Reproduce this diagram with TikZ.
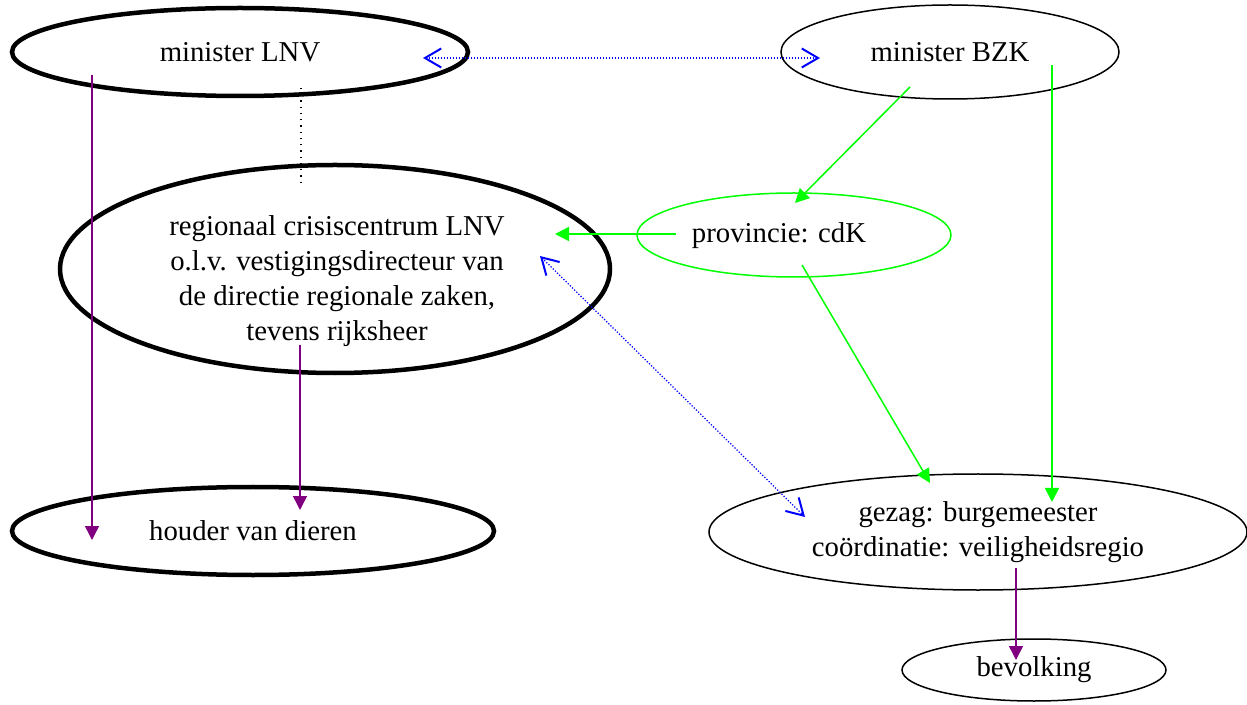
\documentclass[tikz,border=0pt]{standalone}
\usepackage{fontspec}
\setmainfont{Liberation Serif}
\usetikzlibrary{shapes.geometric,arrows.meta}
\definecolor{paars}{RGB}{128,0,128}
\definecolor{groen}{RGB}{0,255,0}
\definecolor{blauw}{RGB}{0,0,255}
\begin{document}
\begin{tikzpicture}[
        x=0.4pt, y=-0.4pt,
        every node/.style={align=center, font=\fontsize{11.5}{14}\selectfont},
        org/.style={ellipse, draw, inner sep=0pt},
        dik/.style={org, line width=1.8pt},
        dun/.style={org, line width=0.6pt},
        lijn/.style={line width=0.6pt, -{Triangle[length=5.6pt,width=5.6pt]}},
        overleg/.style={blauw, dash pattern=on 0.5pt off 0.7pt, line width=0.5pt, {Straight Barb[length=6.5pt,width=7.6pt,line width=0.8pt]}-{Straight Barb[length=6.5pt,width=7.6pt,line width=0.8pt]}},
    ]
    \useasboundingbox (0,0) rectangle (1247,705);
    \node[dik, minimum width=182.4pt, minimum height=35.2pt] (lnv) at (240,52) {minister LNV};
    \node[dun, minimum width=135.2pt, minimum height=37.6pt] (bzk) at (950,52) {minister BZK};
    \node[dik, minimum width=220pt, minimum height=83.2pt] (rcc) at (335,269) {};
    \node (rcctekst) at (337,281) {regionaal crisiscentrum LNV\\o.l.v. vestigingsdirecteur van\\de directie regionale zaken,\\tevens rijksheer};
    \node[dun, draw=groen, minimum width=125.6pt, minimum height=33.6pt] (prov) at (794,235) {};
    \node (provtekst) at (779,236) {provincie: cdK};
    \node[dik, minimum width=192.8pt, minimum height=35.2pt] (houder) at (253,531) {houder van dieren};
    \node[dun, minimum width=215.2pt, minimum height=46.4pt] (gezag) at (978,532) {gezag: burgemeester\\coördinatie: veiligheidsregio};
    \node[dun, minimum width=105.6pt, minimum height=24.8pt] (bevolking) at (1034,670) {bevolking};

    \coordinate (a1) at (423,58);  \coordinate (a2) at (820,58);
    \coordinate (b1) at (301,88);  \coordinate (b2) at (301,183);
    \coordinate (c1) at (92,75);   \coordinate (c2) at (92,540);
    \coordinate (d1) at (300,345); \coordinate (d2) at (300,510);
    \coordinate (e1) at (1016,568); \coordinate (e2) at (1016,660);
    \coordinate (f1) at (910,87);  \coordinate (f2) at (795,203);
    \coordinate (g1) at (1052,65); \coordinate (g2) at (1052,502);
    \coordinate (h1) at (676,234); \coordinate (h2) at (555,234);
    \coordinate (i1) at (802,265); \coordinate (i2) at (930,483);
    \coordinate (j1) at (540,256); \coordinate (j2) at (805,517);

    \draw[overleg] (a1) -- (a2);
    \draw[dotted, line width=0.5pt] (b1) -- (b2);
    \draw[lijn, paars] (c1) -- (c2);
    \draw[lijn, paars] (d1) -- (d2);
    \draw[lijn, paars] (e1) -- (e2);
    \draw[lijn, groen] (f1) -- (f2);
    \draw[lijn, groen] (g1) -- (g2);
    \draw[lijn, groen] (h1) -- (h2);
    \draw[lijn, groen] (i1) -- (i2);
    \draw[overleg] (j1) -- (j2);
\end{tikzpicture}
\end{document}
